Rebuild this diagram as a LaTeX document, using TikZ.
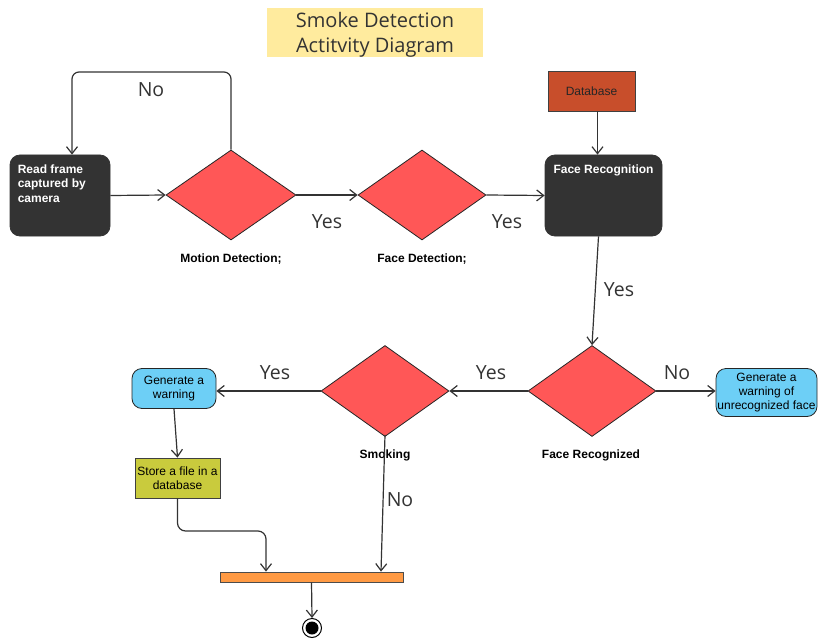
\documentclass[tikz,border=0pt]{standalone}
\usepackage{fontspec}
\setmainfont{Liberation Sans}
\newfontfamily\osans{Open Sans}
\usetikzlibrary{shapes.geometric,arrows.meta}

\definecolor{inkgray}{HTML}{333333}
\definecolor{darkbox}{HTML}{333333}
\definecolor{decred}{HTML}{FF5757}
\definecolor{dbred}{HTML}{C84E2B}
\definecolor{warnblue}{HTML}{6DCFF6}
\definecolor{storeolive}{HTML}{C9CB3D}
\definecolor{barorange}{HTML}{FF9A44}
\definecolor{titleyellow}{HTML}{FFEB9E}

\tikzset{
  arr/.style={draw=inkgray, line width=1.2pt, -{Straight Barb[length=7pt,width=11pt]}},
  darkstep/.style={rectangle, rounded corners=10pt, draw=black!80, line width=0.8pt,
    fill=darkbox, inner sep=0pt},
  decision/.style={diamond, draw=black!85, line width=0.8pt, fill=decred, inner sep=0pt,
    minimum width=128pt, minimum height=91pt},
  warnbox/.style={rectangle, rounded corners=10pt, draw=black!85, line width=0.8pt,
    fill=warnblue, inner sep=1pt, align=center, font=\fontsize{12}{14}\selectfont},
  squarebox/.style={rectangle, draw=black!75, line width=0.8pt, inner sep=1pt,
    align=center, font=\fontsize{12}{13.5}\selectfont},
  decisionlabel/.style={font=\fontsize{12}{14}\selectfont\bfseries, text=black, inner sep=0pt},
  guard/.style={font=\osans\fontsize{19.5}{22}\selectfont, text=inkgray, inner sep=0pt},
  whitetext/.style={text=white, font=\fontsize{12}{14.5}\selectfont\bfseries, inner sep=0pt}
}

\begin{document}
\begin{tikzpicture}[x=1pt, y=-1pt]
  \useasboundingbox (0,0) rectangle (818,639);

  % title
  \node[fill=titleyellow, minimum width=216pt, minimum height=49pt, inner sep=0pt,
        align=center, text=inkgray, font=\osans\fontsize{20}{25}\selectfont]
    (title) at (375,32.5) {};
  \node[align=center, text=inkgray, inner sep=0pt, font=\osans\fontsize{20}{25}\selectfont]
    (titletext) at (375,34.5) {Smoke Detection\\Actitvity Diagram};

  % upper row
  \node[darkstep, minimum width=100pt, minimum height=81pt,
        label={[whitetext, anchor=north west, align=left, xshift=8pt, yshift=-10pt]north west:Read frame\\captured by\\camera}]
    (read) at (60,195.5) {};
  \node[decision, minimum width=130pt, minimum height=90pt] (motion) at (231,195) {};
  \node[decisionlabel] (motionlbl) at (231,259) {Motion Detection;};
  \node[decision, minimum width=128pt, minimum height=90pt] (facedet) at (422,195) {};
  \node[decisionlabel] (facedetlbl) at (422,259) {Face Detection;};
  \node[darkstep, minimum width=117pt, minimum height=81pt,
        label={[whitetext, anchor=north, yshift=-10pt]north:Face Recognition}]
    (facerec) at (603.5,195.5) {};
  \node[squarebox, fill=dbred, minimum width=87pt, minimum height=40pt,
        font=\fontsize{12}{13.5}\selectfont, text=black!85]
    (db) at (591.5,91) {Database};

  % lower row
  \node[decision] (recog) at (592,391) {};
  \node[decisionlabel] (recoglbl) at (591,455.5) {Face Recognized};
  \node[decision] (smoking) at (385,391) {};
  \node[decisionlabel] (smokinglbl) at (385,455.5) {Smoking};
  \node[warnbox, minimum width=84pt, minimum height=40pt] (warn) at (174,388.5) {Generate a\\warning};
  \node[warnbox, minimum width=101pt, minimum height=48pt] (unknown) at (766.5,392.5) {Generate a\\warning of\\unrecognized face};
  \node[squarebox, fill=storeolive, minimum width=85pt, minimum height=40pt] (store) at (177.5,478) {Store a file in a\\database};

  % join bar and final node
  \node[rectangle, draw=black!70, line width=0.8pt, fill=barorange, inner sep=0pt,
        minimum width=183pt, minimum height=10pt] (bar) at (311.5,577) {};
  \node[circle, draw=black, line width=1pt, fill=white, minimum size=19pt, inner sep=0pt]
    (fin) at (312,628) {};
  \fill[black] (fin.center) circle (6.5pt);

  % routing points
  \coordinate (looptop) at (150,72);
  \coordinate (joinpt) at (220,531);

  % connectors
  \draw[arr, rounded corners=7pt] (motion.north) |- (looptop) -| ([xshift=12pt]read.north);
  \draw[arr] (read.east) -- (motion.west);
  \draw[arr] (motion.east) -- (facedet.west);
  \draw[arr] (facedet.east) -- (facerec.west);
  \draw[arr] ([xshift=6pt]db.south) -- ([xshift=-6pt]facerec.north);
  \draw[arr] ([xshift=-5pt]facerec.south) -- (recog.north);
  \draw[arr] (recog.east) -- (recog.east -| unknown.west);
  \draw[arr] (recog.west) -- (smoking.east);
  \draw[arr] (smoking.west) -- (smoking.west -| warn.east);
  \draw[arr] (warn.south) -- (store.north);
  \draw[arr, rounded corners=8pt] (store.south) |- (joinpt) -| ([xshift=-45.5pt]bar.north);
  \draw[arr] ([yshift=2pt]smoking.south) -- ([xshift=69.5pt]bar.north);
  \draw[arr] (bar.south) -- (fin.north);

  % guard labels
  \node[guard] (g1) at (151,90) {No};
  \node[guard] (g2) at (327,222) {Yes};
  \node[guard] (g3) at (507,222) {Yes};
  \node[guard] (g4) at (619,290) {Yes};
  \node[guard] (g5) at (275,373) {Yes};
  \node[guard] (g6) at (491,373) {Yes};
  \node[guard] (g7) at (677,373) {No};
  \node[guard] (g8) at (400,500) {No};
\end{tikzpicture}
\end{document}
